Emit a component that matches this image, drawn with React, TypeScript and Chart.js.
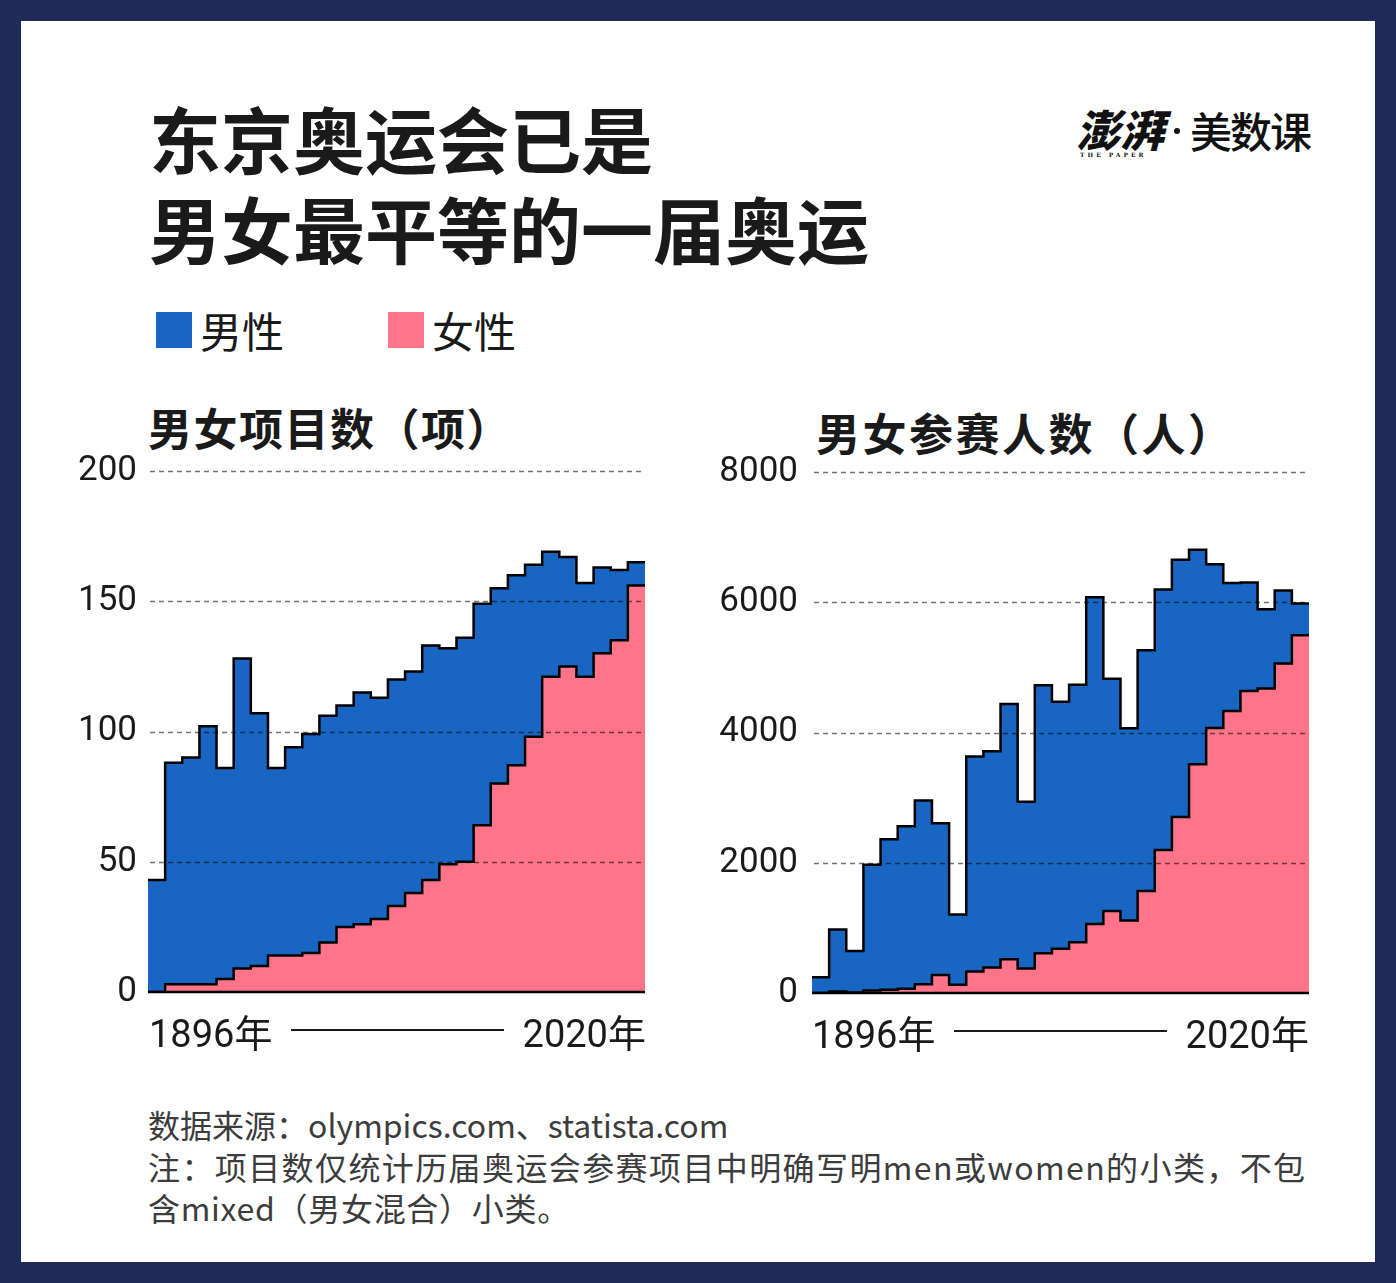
import React, { useEffect, useRef } from "react";
import { Chart, registerables } from "chart.js";

Chart.register(...registerables);

// ---- data ----
const years = [
  1896, 1900, 1904, 1908, 1912, 1920, 1924, 1928, 1932, 1936, 1948, 1952, 1956, 1960, 1964,
  1968, 1972, 1976, 1980, 1984, 1988, 1992, 1996, 2000, 2004, 2008, 2012, 2016, 2020,
];
const menEvents = [
  43, 88, 90, 102, 86, 128, 107, 86, 94, 99, 106, 110, 115, 113, 120,
  123, 133, 132, 136, 149, 155, 160, 164, 169, 167, 157, 163, 162, 165,
];
const womenEvents = [
  0, 3, 3, 3, 5, 9, 10, 14, 14, 15, 19, 25, 26, 28, 33,
  38, 43, 49, 50, 64, 80, 87, 98, 121, 125, 121, 130, 135, 156,
];
const menAthletes = [
  241, 975, 645, 1971, 2359, 2561, 2954, 2606, 1206, 3632, 3714, 4436, 2938, 4727, 4473,
  4735, 6075, 4824, 4064, 5263, 6197, 6652, 6806, 6582, 6296, 6305, 5892, 6179, 5982,
];
const womenAthletes = [
  0, 22, 6, 37, 48, 65, 135, 277, 126, 331, 390, 519, 376, 611, 678,
  781, 1059, 1260, 1115, 1566, 2194, 2704, 3512, 4069, 4329, 4637, 4676, 5059, 5494,
];
const eventTicks = [0, 50, 100, 150, 200];
const athleteTicks = [0, 2000, 4000, 6000, 8000];

const BLUE = "#1866c1";
const PINK = "#ff7489";
const NAVY = "#202a58";
const INK = "#1a1a1a";
const CJK = '"Noto Sans CJK SC", "Noto Sans", sans-serif';
const NUM = 'Roboto, "Noto Sans", sans-serif';

const gridOverlay = {
  id: "gridOverlay",
  afterDatasetsDraw(chart: any) {
    const { ctx, chartArea } = chart;
    const y = chart.scales.y;
    ctx.save();
    y.ticks.forEach((t: any) => {
      if (t.value === 0) return;
      const py = Math.round(y.getPixelForValue(t.value)) + 0.5;
      ctx.beginPath();
      ctx.setLineDash([5, 4]);
      ctx.lineWidth = 1.5;
      ctx.strokeStyle = "rgba(0,0,0,0.55)";
      ctx.moveTo(chartArea.left + 2, py);
      ctx.lineTo(chartArea.right, py);
      ctx.stroke();
    });
    const p0 = y.getPixelForValue(0);
    ctx.beginPath();
    ctx.setLineDash([]);
    ctx.lineWidth = 2.5;
    ctx.strokeStyle = "#000";
    ctx.moveTo(chartArea.left, p0);
    ctx.lineTo(chartArea.right, p0);
    ctx.stroke();
    ctx.restore();
  },
};

const CW = 630;
const CH = 601;
const YW = 110;

function StepChart(props: { men: number[]; women: number[]; ticks: number[]; left: number; top: number; pad: number }) {
  const ref = useRef<HTMLCanvasElement>(null);
  useEffect(() => {
    const toPts = (arr: number[]) => [...arr, arr[arr.length - 1]].map((v, i) => ({ x: i, y: v }));
    const common = {
      stepped: "before",
      fill: "origin",
      borderColor: "#000",
      borderWidth: 2.5,
      pointRadius: 0,
      borderJoinStyle: "miter",
      tension: 0,
    };
    const chart = new Chart(ref.current as HTMLCanvasElement, {
      type: "line",
      data: {
        datasets: [
          { label: "女性", data: toPts(props.women), backgroundColor: PINK, ...common } as any,
          { label: "男性", data: toPts(props.men), backgroundColor: BLUE, ...common } as any,
        ],
      },
      options: {
        animation: false,
        responsive: false,
        maintainAspectRatio: false,
        layout: { padding: { left: 0, top: 40, right: CW - YW - 497, bottom: 40 } },
        plugins: { legend: { display: false }, tooltip: { enabled: false } },
        scales: {
          x: { type: "linear", min: 0, max: years.length, display: false },
          y: {
            min: 0,
            max: props.ticks[props.ticks.length - 1],
            afterBuildTicks: (s: any) => {
              s.ticks = props.ticks.map((v) => ({ value: v }));
            },
            afterFit: (s: any) => {
              s.width = YW;
            },
            grid: { display: false, drawTicks: false },
            border: { display: false },
            ticks: {
              padding: props.pad,
              color: INK,
              font: { family: NUM, size: 35 },
              callback: (v: any) => String(v),
            },
          },
        },
      } as any,
      plugins: [gridOverlay],
    });
    return () => chart.destroy();
  }, []);
  return (
    <canvas
      ref={ref}
      width={CW}
      height={CH}
      style={{ position: "absolute", left: props.left, top: props.top, width: CW, height: CH }}
    />
  );
}

function AxisLabel(props: { left: number; top: number }) {
  return (
    <div
      style={{
        position: "absolute",
        left: props.left,
        top: props.top,
        width: 497,
        height: 44,
        display: "flex",
        alignItems: "center",
        justifyContent: "space-between",
        fontFamily: NUM,
        fontSize: 38,
        color: INK,
        whiteSpace: "nowrap",
      }}
    >
      <span>
        1896<span style={{ fontFamily: CJK }}>年</span>
      </span>
      <span style={{ flex: 1, height: 2, background: INK, margin: "0 19px 0 19px" }} />
      <span>
        2020<span style={{ fontFamily: CJK }}>年</span>
      </span>
    </div>
  );
}

export default function App() {
  return (
    <div
      style={{
        position: "fixed",
        left: 0,
        top: 0,
        width: 1396,
        height: 1283,
        background: NAVY,
        overflow: "hidden",
      }}
    >
      <div style={{ position: "absolute", left: 21, top: 21, width: 1354, height: 1241, background: "#fff" }} />

      {/* title */}
      <div
        style={{
          position: "absolute",
          left: 149,
          top: 92,
          fontFamily: CJK,
          fontWeight: 700,
          fontSize: 72,
          lineHeight: "90px",
          color: INK,
          whiteSpace: "nowrap",
        }}
      >
        东京奥运会已是
        <br />
        男女最平等的一届奥运
      </div>

      {/* logo */}
      <div style={{ position: "absolute", left: 1076, top: 100, width: 240, height: 64, color: "#111", whiteSpace: "nowrap" }}>
        <span
          style={{
            position: "absolute",
            left: 0,
            top: 0,
            fontFamily: CJK,
            fontWeight: 900,
            fontSize: 44,
            lineHeight: "56px",
            fontStyle: "italic",
          }}
        >
          澎湃
        </span>
        <span
          style={{
            position: "absolute",
            left: 4,
            top: 51,
            fontFamily: '"DejaVu Serif", serif',
            fontWeight: 700,
            fontSize: 6,
            letterSpacing: 3,
          }}
        >
          THE PAPER
        </span>
        <div style={{ position: "absolute", left: 98, top: 28, width: 6, height: 6, borderRadius: 3, background: "#111" }} />
        <span
          style={{
            position: "absolute",
            left: 114,
            top: 0,
            fontFamily: CJK,
            fontWeight: 500,
            fontSize: 42,
            lineHeight: "60px",
            letterSpacing: -2,
          }}
        >
          美数课
        </span>
      </div>

      {/* legend */}
      <div style={{ position: "absolute", left: 156, top: 312, width: 36, height: 36, background: BLUE }} />
      <div
        style={{ position: "absolute", left: 200, top: 305, fontFamily: CJK, fontSize: 42, lineHeight: "50px", color: INK }}
      >
        男性
      </div>
      <div style={{ position: "absolute", left: 388, top: 312, width: 36, height: 36, background: PINK }} />
      <div
        style={{ position: "absolute", left: 432, top: 305, fontFamily: CJK, fontSize: 42, lineHeight: "50px", color: INK }}
      >
        女性
      </div>

      {/* subtitles */}
      <div
        style={{
          position: "absolute",
          left: 148,
          top: 400,
          fontFamily: CJK,
          fontWeight: 700,
          fontSize: 44,
          lineHeight: "54px",
          letterSpacing: 1.5,
          color: INK,
          whiteSpace: "nowrap",
        }}
      >
        男女项目数（项）
      </div>
      <div
        style={{
          position: "absolute",
          left: 816,
          top: 405,
          fontFamily: CJK,
          fontWeight: 700,
          fontSize: 44,
          lineHeight: "54px",
          letterSpacing: 2.5,
          color: INK,
          whiteSpace: "nowrap",
        }}
      >
        男女参赛人数（人）
      </div>

      {/* charts */}
      <StepChart men={menEvents} women={womenEvents} ticks={eventTicks} left={148 - YW} top={471 - 40} pad={11} />
      <StepChart men={menAthletes} women={womenAthletes} ticks={athleteTicks} left={812 - YW} top={472 - 40} pad={14} />

      <AxisLabel left={149} top={1008} />
      <AxisLabel left={812} top={1009} />

      {/* footer */}
      <div
        style={{
          position: "absolute",
          left: 148,
          top: 1104,
          fontFamily: CJK,
          fontSize: 32,
          lineHeight: "41.5px",
          color: "#3c3c3c",
          whiteSpace: "nowrap",
        }}
      >
        <div>数据来源：olympics.com、statista.com</div>
        <div style={{ letterSpacing: 1.4 }}>注：项目数仅统计历届奥运会参赛项目中明确写明men或women的小类，不包</div>
        <div style={{ letterSpacing: 0.7 }}>含mixed（男女混合）小类。</div>
      </div>
    </div>
  );
}
